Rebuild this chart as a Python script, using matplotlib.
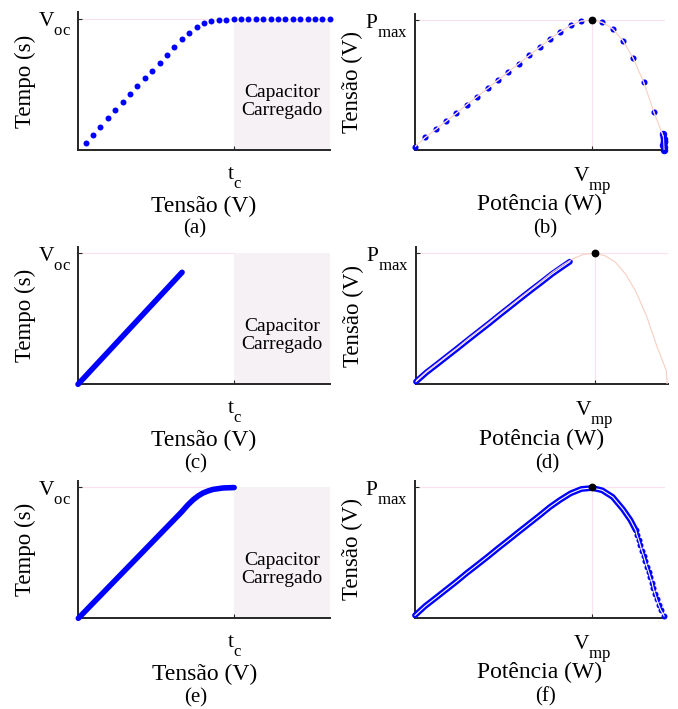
import matplotlib
matplotlib.use('Agg')
import matplotlib.pyplot as plt

try:
    import matplotlib._mathtext as _mt
    _mt.FontConstantsBase.sub1 = 0.95
    _mt.SHRINK_FACTOR = 0.78
except Exception:
    pass

plt.rcParams['font.family'] = ['Liberation Serif', 'DejaVu Serif']
plt.rcParams['mathtext.fontset'] = 'custom'
plt.rcParams['mathtext.rm'] = 'Liberation Serif'
plt.rcParams['mathtext.it'] = 'Liberation Serif:italic'
plt.rcParams['mathtext.bf'] = 'Liberation Serif:bold'

# ---------------- data (normalised: t_c = 1, V_oc = 1, V_mp = 1, P_max = 1) -------------
# (a) sampled charging curve
a_t = [0.049, 0.096, 0.144, 0.191, 0.239, 0.286, 0.333, 0.381, 0.428, 0.476,
       0.523, 0.570, 0.618, 0.665, 0.713, 0.760, 0.807, 0.855, 0.902, 0.950,
       0.997, 1.044, 1.092, 1.139, 1.187, 1.234, 1.281, 1.329, 1.376, 1.424,
       1.471, 1.518, 1.566, 1.613]
a_v = [0.051, 0.117, 0.178, 0.242, 0.303, 0.364, 0.425, 0.486, 0.547, 0.606,
       0.667, 0.728, 0.789, 0.845, 0.896, 0.941, 0.972, 0.987, 0.992, 0.995,
       1.0, 1.0, 1.0, 1.0, 1.0, 1.0, 1.0, 1.0, 1.0, 1.0, 1.0, 1.0, 1.0, 1.0]
# (c) continuous charging (incomplete)
c_t = [0.0, 0.667]
c_v = [0.0, 0.855]
# (e) continuous charging (complete)
e_t = [0.0, 0.600, 0.663, 0.700, 0.737, 0.770, 0.801, 0.835, 0.865, 0.929, 1.0]
e_v = [0.0, 0.735, 0.812, 0.862, 0.905, 0.935, 0.957, 0.973, 0.984, 0.995, 0.998]

# P-V reference curve
pv_v = [0.0, 0.058, 0.117, 0.175, 0.233, 0.292, 0.350, 0.410, 0.468, 0.526,
        0.585, 0.645, 0.703, 0.761, 0.820, 0.878, 0.938, 1.0, 1.056, 1.115,
        1.173, 1.231, 1.290, 1.348, 1.401, 1.405]
pv_p = [0.026, 0.097, 0.159, 0.221, 0.282, 0.349, 0.410, 0.474, 0.538, 0.600,
        0.664, 0.728, 0.790, 0.854, 0.910, 0.959, 0.992, 1.0, 0.982, 0.933,
        0.841, 0.705, 0.521, 0.290, 0.103, 0.0]

# (b) sampled operating points
b_v = [0.0, 0.058, 0.117, 0.175, 0.233, 0.292, 0.350, 0.410, 0.468, 0.526,
       0.585, 0.645, 0.703, 0.761, 0.820, 0.878, 0.938, 0.997, 1.056, 1.115,
       1.173, 1.231, 1.290, 1.348, 1.401, 1.396, 1.403, 1.405, 1.400, 1.407,
       1.406, 1.402]
b_p = [0.026, 0.097, 0.159, 0.221, 0.282, 0.349, 0.410, 0.474, 0.538, 0.600,
       0.664, 0.728, 0.790, 0.854, 0.910, 0.959, 0.992, 1.0, 0.982, 0.933,
       0.841, 0.705, 0.521, 0.290, 0.103, 0.125, 0.085, 0.06, 0.04, 0.02,
       0.0, 0.07]

# (d) continuous operating points (incomplete)
d_v = [0.0, 0.058, 0.117, 0.175, 0.233, 0.292, 0.350, 0.410, 0.468, 0.526,
       0.585, 0.645, 0.703, 0.761, 0.820, 0.861]
d_p = [0.02, 0.090, 0.152, 0.214, 0.276, 0.340, 0.402, 0.466, 0.530, 0.592,
       0.656, 0.720, 0.780, 0.842, 0.898, 0.936]

# (f) continuous operating points (complete)
f_band_v = [0.0, 0.058, 0.117, 0.175, 0.233, 0.292, 0.350, 0.410, 0.468, 0.526,
            0.585, 0.645, 0.703, 0.761, 0.820, 0.878, 0.938, 1.0, 1.056, 1.115,
            1.173, 1.215, 1.245]
f_band_p = [0.02, 0.092, 0.154, 0.216, 0.278, 0.344, 0.405, 0.469, 0.533, 0.595,
            0.659, 0.723, 0.785, 0.849, 0.905, 0.954, 0.987, 0.995, 0.977, 0.926,
            0.832, 0.750, 0.672]
f_dot_v = [1.245, 1.252, 1.262, 1.271, 1.280, 1.290, 1.299, 1.308, 1.318, 1.327,
           1.337, 1.344, 1.354, 1.363, 1.374, 1.386, 1.405]
f_dot_p = [0.672, 0.634, 0.595, 0.555, 0.514, 0.473, 0.433, 0.392, 0.351, 0.311,
           0.270, 0.227, 0.183, 0.143, 0.102, 0.061, 0.015]

TC, VOC, VMP, PMAX = 1.0, 1.0, 1.0, 1.0
LEFT_XMAX, RIGHT_XMAX, YMAX = 1.615, 1.41, 1.05

BLUE = '#0000ff'
PINK = '#fbe1ef'
SALMON = '#f6cfc2'
SHADE = '#f6f1f5'
SPINE = '#262626'

W, H = 678, 709
fig = plt.figure(figsize=(W / 100, H / 100), dpi=100)


def add_ax(left, right, bottom, ref):
    h = (bottom - ref) * YMAX
    return fig.add_axes([left / W, 1 - bottom / H, (right - left) / W, h / H])


def style(ax, xmax):
    ax.set_xlim(0, xmax)
    ax.set_ylim(0, YMAX)
    for s in ['top', 'right']:
        ax.spines[s].set_visible(False)
    for s in ['left', 'bottom']:
        ax.spines[s].set_color(SPINE)
        ax.spines[s].set_linewidth(1.4)
    ax.tick_params(direction='in', length=3, width=0.8, color=SPINE, labelsize=15.5)
    ax.tick_params(axis='x', pad=11)
    ax.tick_params(axis='y', pad=5)


def left_panel(ax, letter):
    style(ax, LEFT_XMAX)
    ax.fill_between([TC, LEFT_XMAX], 0, VOC, color=SHADE, lw=0, zorder=0)
    ax.plot([0, TC], [VOC, VOC], color=PINK, lw=0.8, zorder=1)
    ax.text((TC + LEFT_XMAX) / 2, 0.37, 'Capacitor\nCarregado', ha='center', va='center',
            fontsize=14, linespacing=1.1)
    ax.set_xticks([TC])
    ax.set_xticklabels([r'$\mathrm{t}_\mathrm{c}$'])
    ax.set_yticks([VOC])
    ax.set_yticklabels([r'$\mathrm{V}_\mathrm{oc}$'])
    ax.set_xlabel('Tensão (V)', fontsize=17, va='center')
    ax.xaxis.set_label_coords(0.5, -0.407)
    ax.set_ylabel('Tempo (s)', fontsize=16.5, va='center')
    ax.yaxis.set_label_coords(-0.21, 0.5)
    ax.text(0.465, -0.575, letter, transform=ax.transAxes, ha='center', va='center',
            fontsize=15)


def right_panel(ax, letter):
    style(ax, RIGHT_XMAX)
    ax.plot([0, RIGHT_XMAX], [PMAX, PMAX], color=PINK, lw=0.8, zorder=1)
    ax.plot([VMP, VMP], [0, PMAX], color=PINK, lw=0.8, zorder=1)
    ax.set_xticks([VMP])
    ax.set_xticklabels([r'$\mathrm{V}_\mathrm{mp}$'])
    ax.set_yticks([PMAX])
    ax.set_yticklabels([r'$\mathrm{P}_\mathrm{max}$'])
    ax.set_xlabel('Potência (W)', fontsize=17, va='center')
    ax.xaxis.set_label_coords(0.5, -0.40)
    ax.set_ylabel('Tensão (V)', fontsize=16.5, va='center')
    ax.yaxis.set_label_coords(-0.25, 0.5)
    ax.text(0.52, -0.575, letter, transform=ax.transAxes, ha='center', va='center',
            fontsize=15)


def pv_ref(ax):
    ax.plot(pv_v, pv_p, color=SALMON, lw=0.8, zorder=5)
    ax.plot([VMP], [PMAX], 'o', color='black', ms=4.6, zorder=6, clip_on=False)


# (a)
ax = add_ax(78, 330, 150, 19)
left_panel(ax, '(a)')
ax.plot(a_t, a_v, 'o', color=BLUE, ms=4.3, mew=0, zorder=3, clip_on=False)

# (b)
ax = add_ax(415, 665, 150, 20)
right_panel(ax, '(b)')
ax.plot(b_v, b_p, 'o', color=BLUE, ms=4.4, mew=0, zorder=3, clip_on=False)
ax.plot(b_v[25:], b_p[25:], 'o', mfc='none', mec=BLUE, ms=4.6, mew=0.8, zorder=3,
        clip_on=False)
ax.plot(b_v[:25], b_p[:25], color='white', lw=0.7, zorder=4)
pv_ref(ax)

# (c)
ax = add_ax(78, 330, 384.3, 253.3)
left_panel(ax, '(c)')
ax.plot(c_t, c_v, color=BLUE, lw=4, solid_capstyle='round', zorder=3, clip_on=False)

# (d)
ax = add_ax(416, 668, 384.3, 253.3)
right_panel(ax, '(d)')
ax.plot(d_v, d_p, color=BLUE, lw=4.2, solid_capstyle='round', zorder=3, clip_on=False)
ax.plot(d_v, d_p, color='white', lw=0.8, zorder=4, clip_on=False)
pv_ref(ax)

# (e)
ax = add_ax(78.3, 330, 618.3, 487.3)
left_panel(ax, '(e)')
ax.plot(e_t, e_v, color=BLUE, lw=4, solid_capstyle='round', zorder=3, clip_on=False)

# (f)
ax = add_ax(415, 665, 618, 487.3)
right_panel(ax, '(f)')
ax.plot(f_band_v, f_band_p, color=BLUE, lw=4.2, solid_capstyle='round', zorder=3,
        clip_on=False)
ax.plot(f_dot_v, f_dot_p, 'o', color=BLUE, ms=4.3, mew=0, zorder=3, clip_on=False)
ax.plot(f_band_v + f_dot_v, f_band_p + f_dot_p, color='white', lw=0.8, zorder=4,
        clip_on=False)
ax.plot(pv_v, pv_p, color=SALMON, lw=0.6, alpha=0.5, zorder=2)
ax.plot([VMP], [PMAX], 'o', color='black', ms=4.6, zorder=6, clip_on=False)

fig.savefig('out.png', dpi=100)
